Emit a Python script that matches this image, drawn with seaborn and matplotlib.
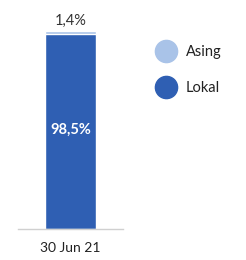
import matplotlib
matplotlib.use("Agg")
import matplotlib.pyplot as plt
from matplotlib.lines import Line2D
import seaborn as sns
import pandas as pd

categories = ["30 Jun 21"]
lokal = [98.5]
asing = [1.4]
series_names = ["Asing", "Lokal"]

color_lokal = "#2f5fb3"
color_asing = "#a9c3e8"

sns.set_style("white")
plt.rcParams['font.family'] = ['Lato', 'DejaVu Sans']

df = pd.DataFrame({"cat": categories, "lokal": lokal,
                   "total": [l + a for l, a in zip(lokal, asing)]})

fig = plt.figure(figsize=(2.46, 2.6), dpi=100)
ax = fig.add_axes([0.073, 0.119, 0.427, 0.762])

sns.barplot(data=df, x="cat", y="total", color=color_asing, width=0.49,
            saturation=1, ax=ax)
sns.barplot(data=df, x="cat", y="lokal", color=color_lokal, width=0.49,
            saturation=1, ax=ax)

ax.set_xlim(-0.5, 0.5)
ax.set_ylim(0, 100)
for s in ["top", "right", "left"]:
    ax.spines[s].set_visible(False)
ax.spines["bottom"].set_color("#d0d0d0")
ax.spines["bottom"].set_linewidth(1)
ax.set_yticks([])
ax.set_xlabel("")
ax.set_ylabel("")
ax.tick_params(axis="x", length=0, pad=9, labelsize=10, labelcolor="#222222")

for i in range(len(categories)):
    ax.text(i, df["total"][i] + 1.5, f"{asing[i]:.1f}%".replace(".", ","),
            ha="center", va="bottom", fontsize=10.5, color="#333333")
    ax.text(i, lokal[i] / 2 + 1, f"{lokal[i]:.1f}%".replace(".", ","),
            ha="center", va="center", fontsize=10.5, color="white",
            fontweight="bold")

handles = [Line2D([0], [0], marker="o", linestyle="", markersize=16,
                  markerfacecolor=c, markeredgecolor=c)
           for c in [color_asing, color_lokal]]
fig.legend(handles, series_names, loc="upper left",
           bbox_to_anchor=(0.585, 0.878), frameon=False, fontsize=10.5,
           handletextpad=0.75, labelspacing=1.5, handlelength=1.2,
           labelcolor="#222222")

fig.savefig("out.png", dpi=100)
